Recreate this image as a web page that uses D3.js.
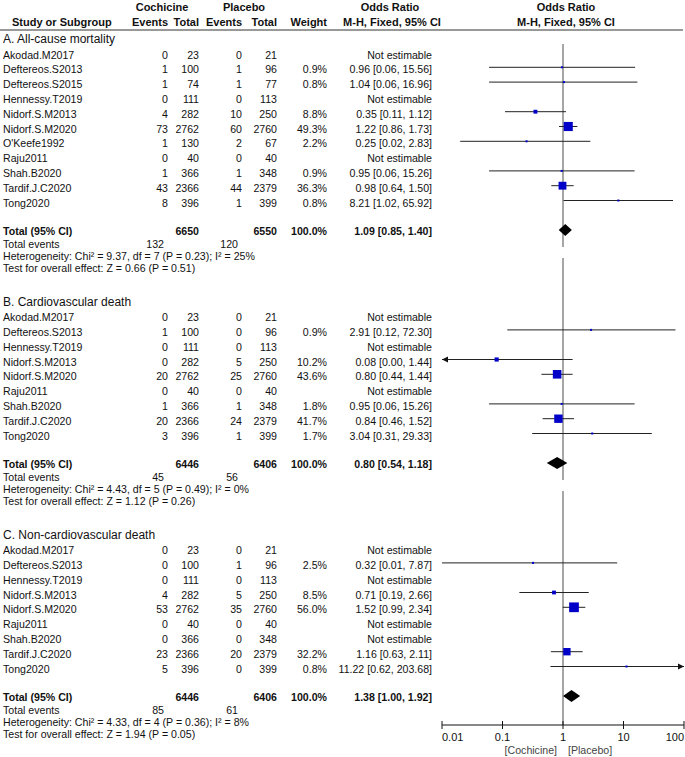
<!DOCTYPE html>
<html><head><meta charset="utf-8">
<script src="https://cdn.jsdelivr.net/npm/d3@7"></script>
<style>
html,body{margin:0;padding:0;background:#fff;}
svg{display:block;}
text{font-family:"Liberation Sans",Arial,sans-serif;fill:#111;}
</style></head>
<body>
<svg id="chart" width="685" height="757"></svg>
<script>
// ---- data ----
// [study, colchicine events, colchicine total, placebo events, placebo total, weight %, OR, lower, upper]
const sectionTitles = ["A. All-cause mortality", "B. Cardiovascular death", "C. Non-cardiovascular death"];
const rowsA = [
  ["Akodad.M2017", 0, 23, 0, 21, null, null, null, null],
  ["Deftereos.S2013", 1, 100, 1, 96, 0.9, 0.96, 0.06, 15.56],
  ["Deftereos.S2015", 1, 74, 1, 77, 0.8, 1.04, 0.06, 16.96],
  ["Hennessy.T2019", 0, 111, 0, 113, null, null, null, null],
  ["Nidorf.S.M2013", 4, 282, 10, 250, 8.8, 0.35, 0.11, 1.12],
  ["Nidorf.S.M2020", 73, 2762, 60, 2760, 49.3, 1.22, 0.86, 1.73],
  ["O'Keefe1992", 1, 130, 2, 67, 2.2, 0.25, 0.02, 2.83],
  ["Raju2011", 0, 40, 0, 40, null, null, null, null],
  ["Shah.B2020", 1, 366, 1, 348, 0.9, 0.95, 0.06, 15.26],
  ["Tardif.J.C2020", 43, 2366, 44, 2379, 36.3, 0.98, 0.64, 1.50],
  ["Tong2020", 8, 396, 1, 399, 0.8, 8.21, 1.02, 65.92]
];
const rowsB = [
  ["Akodad.M2017", 0, 23, 0, 21, null, null, null, null],
  ["Deftereos.S2013", 1, 100, 0, 96, 0.9, 2.91, 0.12, 72.30],
  ["Hennessy.T2019", 0, 111, 0, 113, null, null, null, null],
  ["Nidorf.S.M2013", 0, 282, 5, 250, 10.2, 0.08, 0.00, 1.44],
  ["Nidorf.S.M2020", 20, 2762, 25, 2760, 43.6, 0.80, 0.44, 1.44],
  ["Raju2011", 0, 40, 0, 40, null, null, null, null],
  ["Shah.B2020", 1, 366, 1, 348, 1.8, 0.95, 0.06, 15.26],
  ["Tardif.J.C2020", 20, 2366, 24, 2379, 41.7, 0.84, 0.46, 1.52],
  ["Tong2020", 3, 396, 1, 399, 1.7, 3.04, 0.31, 29.33]
];
const rowsC = [
  ["Akodad.M2017", 0, 23, 0, 21, null, null, null, null],
  ["Deftereos.S2013", 0, 100, 1, 96, 2.5, 0.32, 0.01, 7.87],
  ["Hennessy.T2019", 0, 111, 0, 113, null, null, null, null],
  ["Nidorf.S.M2013", 4, 282, 5, 250, 8.5, 0.71, 0.19, 2.66],
  ["Nidorf.S.M2020", 53, 2762, 35, 2760, 56.0, 1.52, 0.99, 2.34],
  ["Raju2011", 0, 40, 0, 40, null, null, null, null],
  ["Shah.B2020", 0, 366, 0, 348, null, null, null, null],
  ["Tardif.J.C2020", 23, 2366, 20, 2379, 32.2, 1.16, 0.63, 2.11],
  ["Tong2020", 5, 396, 0, 399, 0.8, 11.22, 0.62, 203.68]
];
// [colchicine total, placebo total, weight, OR, lower, upper, colchicine events, placebo events]
const totals = [
  [6650, 6550, 100.0, 1.09, 0.85, 1.40, 132, 120],
  [6446, 6406, 100.0, 0.80, 0.54, 1.18, 45, 56],
  [6446, 6406, 100.0, 1.38, 1.00, 1.92, 85, 61]
];
const heterogeneity = [
  "Heterogeneity: Chi² = 9.37, df = 7 (P = 0.23); I² = 25%",
  "Heterogeneity: Chi² = 4.43, df = 5 (P = 0.49); I² = 0%",
  "Heterogeneity: Chi² = 4.33, df = 4 (P = 0.36); I² = 8%"
];
const overallEffect = [
  "Test for overall effect: Z = 0.66 (P = 0.51)",
  "Test for overall effect: Z = 1.12 (P = 0.26)",
  "Test for overall effect: Z = 1.94 (P = 0.05)"
];
const axisTicks = [0.01, 0.1, 1, 10, 100];
const axisTickLabels = ["0.01", "0.1", "1", "10", "100"];
const favourLabels = ["[Cochicine]", "[Placebo]"];

// ---- layout ----
const svg = d3.select("#chart");
const fs = 10.6;
const col = {name: 3, cEv: 168, cTot: 199, pEv: 242, pTot: 277, wt: 327, or: 432};
const x = d3.scaleLog().domain([0.01, 100]).range([442, 684]);
const rowH = 14.8;
const axisY = 725;
const sections = [rowsA, rowsB, rowsC].map((rows, i) => ({rows, title: sectionTitles[i], tot: totals[i], het: heterogeneity[i], z: overallEffect[i]}));
let yCur = 52.5;
sections.forEach(s => { s.first = yCur; s.total = yCur + (s.rows.length + 1) * rowH; yCur = s.total + 85; });

function txt(g, xp, yp, str, anchor, opts = {}) {
  return g.append("text").attr("x", xp).attr("y", yp).attr("text-anchor", anchor || "start")
    .attr("font-size", opts.size || fs).attr("font-weight", opts.bold ? "bold" : null)
    .attr("font-family", opts.family || null).text(str);
}
const fmt = v => v.toFixed(2);

// header
const hdr = svg.append("g");
txt(hdr, 162, 10.5, "Cochicine", "middle", {bold: true, size: 11});
txt(hdr, 244, 10.5, "Placebo", "middle", {bold: true, size: 11});
txt(hdr, 390, 10.5, "Odds Ratio", "middle", {bold: true, size: 11});
txt(hdr, 566, 10.5, "Odds Ratio", "middle", {bold: true, size: 11});
txt(hdr, 12, 25.5, "Study or Subgroup", "start", {bold: true, size: 11});
txt(hdr, col.cEv, 25.5, "Events", "end", {bold: true, size: 11});
txt(hdr, col.cTot, 25.5, "Total", "end", {bold: true, size: 11});
txt(hdr, col.pEv, 25.5, "Events", "end", {bold: true, size: 11});
txt(hdr, col.pTot, 25.5, "Total", "end", {bold: true, size: 11});
txt(hdr, col.wt, 25.5, "Weight", "end", {bold: true, size: 11});
txt(hdr, 392, 25.5, "M-H, Fixed, 95% CI", "middle", {bold: true, size: 11});
txt(hdr, 566, 25.5, "M-H, Fixed, 95% CI", "middle", {bold: true, size: 11});
hdr.append("line").attr("x1", 0).attr("x2", 683).attr("y1", 30).attr("y2", 30)
  .attr("stroke", "#777").attr("stroke-width", 1.6);

// reference line at OR = 1 (one segment per section)
sections.forEach((s, i) => {
  const top = i === 0 ? s.first - 8.5 : sections[i - 1].total + 28;
  const bot = i === sections.length - 1 ? axisY : s.total + 17;
  svg.append("line").attr("x1", x(1)).attr("x2", x(1)).attr("y1", top).attr("y2", bot)
    .attr("stroke", "#808080").attr("stroke-width", 1.4);
});

const arrow = (g, xp, yp, dir) => {
  g.append("path").attr("d", `M${xp},${yp} l${-dir * 6},-3 l0,6 z`).attr("fill", "#111");
};

sections.forEach(s => {
  const g = svg.append("g");
  txt(g, 3, s.first - 9.2, s.title, "start", {size: 12, family: "'Liberation Serif','Times New Roman',serif"});
  s.rows.forEach((r, i) => {
    const y = s.first + i * rowH;
    const ty = y + 6;
    txt(g, col.name, ty, r[0]);
    txt(g, col.cEv, ty, r[1], "end");
    txt(g, col.cTot, ty, r[2], "end");
    txt(g, col.pEv, ty, r[3], "end");
    txt(g, col.pTot, ty, r[4], "end");
    if (r[5] === null) {
      txt(g, col.or, ty, "Not estimable", "end");
      return;
    }
    txt(g, col.wt, ty, r[5].toFixed(1) + "%", "end");
    txt(g, col.or, ty, `${fmt(r[6])} [${fmt(r[7])}, ${fmt(r[8])}]`, "end");
    const [d0, d1] = x.domain();
    const lo = Math.max(r[7], d0), hi = Math.min(r[8], d1);
    g.append("line").attr("x1", x(lo)).attr("x2", x(hi)).attr("y1", y).attr("y2", y)
      .attr("stroke", "#222").attr("stroke-width", 1);
    if (r[7] < d0) arrow(g, x(d0), y, -1);
    if (r[8] > d1) arrow(g, x(d1), y, 1);
    const side = Math.max(2, 1.3 * Math.sqrt(r[5]));
    g.append("rect").attr("x", x(r[6]) - side / 2).attr("y", y - side / 2)
      .attr("width", side).attr("height", side).attr("fill", "#0000c8");
  });
  // total row
  const t = s.tot;
  const tb = s.total + 5;
  txt(g, col.name, tb, "Total (95% CI)", "start", {bold: true});
  txt(g, col.cTot, tb, t[0], "end", {bold: true});
  txt(g, col.pTot, tb, t[1], "end", {bold: true});
  txt(g, col.wt, tb, t[2].toFixed(1) + "%", "end", {bold: true});
  txt(g, col.or, tb, `${fmt(t[3])} [${fmt(t[4])}, ${fmt(t[5])}]`, "end", {bold: true});
  const yc = s.total;
  g.append("path")
    .attr("d", `M${x(t[4])},${yc} L${x(t[3])},${yc - 6} L${x(t[5])},${yc} L${x(t[3])},${yc + 6} Z`)
    .attr("fill", "#000");
  // footer
  const fh = 12.4;
  txt(g, col.name, tb + fh, "Total events");
  txt(g, col.cEv - 4, tb + fh, t[6], "end");
  txt(g, col.pEv - 4, tb + fh, t[7], "end");
  txt(g, col.name, tb + 2 * fh, s.het);
  txt(g, col.name, tb + 3 * fh, s.z);
});

// axis
const ax = svg.append("g");
ax.append("line").attr("x1", x.range()[0]).attr("x2", x.range()[1]).attr("y1", axisY).attr("y2", axisY)
  .attr("stroke", "#111").attr("stroke-width", 1);
axisTicks.forEach((v, i) => {
  ax.append("line").attr("x1", x(v)).attr("x2", x(v)).attr("y1", axisY - 4).attr("y2", axisY + 4)
    .attr("stroke", "#111").attr("stroke-width", 1);
  const anchor = i === 0 ? "start" : (i === axisTicks.length - 1 ? "end" : "middle");
  txt(ax, x(v), axisY + 16, axisTickLabels[i], anchor, {size: 11});
});
txt(ax, x(1) - 6, axisY + 29, favourLabels[0], "end", {size: 10.6}).style("fill", "#444");
txt(ax, x(1) + 5, axisY + 29, favourLabels[1], "start", {size: 10.6}).style("fill", "#444");
</script>
</body></html>
